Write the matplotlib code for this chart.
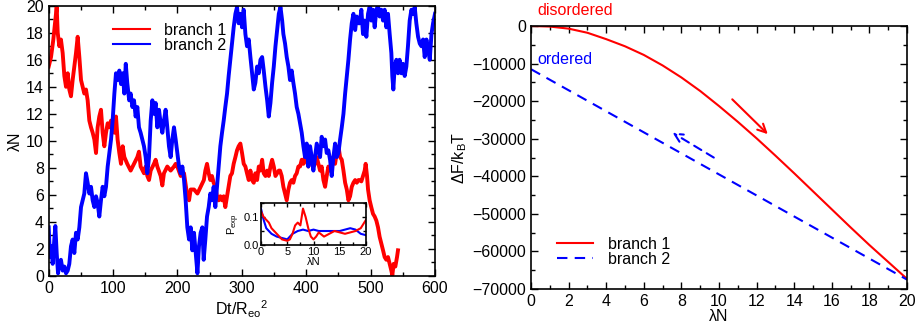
import matplotlib
matplotlib.use("Agg")
import matplotlib.pyplot as plt
from matplotlib.ticker import MultipleLocator

plt.rcParams['font.family'] = ['Liberation Sans', 'DejaVu Sans']
plt.rcParams['mathtext.fontset'] = 'custom'
plt.rcParams['mathtext.rm'] = 'Liberation Sans'
plt.rcParams['mathtext.it'] = 'Liberation Sans:italic'

# ---- left panel: time series of lambda N (branch 1 = red, branch 2 = blue) ----
t1 = [0, 3.6, 7.2, 10.3, 12.4, 14, 16.5, 19, 21.7, 24.3, 26.9, 29.5, 32, 34.6, 37.2, 39.8, 42.4, 45,
      47.6, 50.2, 52.8, 55.3, 57.9, 60.5, 63.1, 65.7, 68.3, 70.9, 73.5, 76, 78.6, 81.2, 83.8, 86.4,
      89, 91.6, 94.2, 96.8, 99.3, 102, 104.5, 107, 109.7, 112.3, 114.9, 117.5, 122, 127.3, 132.5,
      137.7, 140.2, 142.8, 148, 150.6, 153.2, 155.8, 158.4, 163.5, 166.1, 168.7, 173.9, 176.5, 179,
      184.2, 189.4, 194.6, 197.2, 199.8, 205, 210.2, 215.3, 218, 220.5, 225.7, 231, 236, 241, 243.3,
      245.9, 248.5, 251, 253.6, 256.2, 258.8, 261.4, 264, 266.6, 269.2, 271.8, 274.3, 277, 279.5,
      282.1, 284.7, 287.3, 290, 292.5, 295, 297.7, 300.3, 302.9, 305.5, 308, 310.7, 313.3, 315.9,
      318.5, 321, 323.7, 326.3, 328.9, 331.5, 334, 336.7, 339.3, 341.8, 344.4, 347, 349.6, 352.2,
      357.4, 359.3, 361.9, 364.5, 367.1, 369.7, 372.3, 374.8, 377.4, 380, 382.6, 385.2, 387.8, 390.4,
      393, 395.6, 398.1, 400.7, 403.3, 406, 408.5, 411.1, 413.7, 416.3, 418.9, 421.5, 424, 426.7,
      429.3, 431.8, 434.4, 437, 439.6, 442.2, 444.8, 447.4, 450, 452.6, 455.2, 457.8, 460.4, 463,
      465.5, 468.1, 470.7, 473.3, 476, 478.5, 481.1, 483, 485.6, 488.2, 490.8, 492.3, 494.4, 496,
      498.5, 501, 503.7, 506.3, 508.9, 511.5, 514, 516.7, 519.3, 521.8, 524.4, 527, 529.6, 532.2,
      533.7, 535.8, 538.4, 541, 542.5]
v1 = [15.5, 16.2, 17.5, 18.9, 19.9, 18, 17, 17.5, 16.5, 14.8, 14, 15, 13.8, 13.3, 14.5, 15.5, 16.5,
      17.7, 16.2, 14.5, 14, 13.5, 13.8, 13, 11.5, 11, 10.6, 10.1, 9.1, 11, 11.8, 12.3, 10.6, 9.6,
      10.6, 11.3, 11, 11.5, 11, 10.6, 11.8, 10.1, 9.1, 8.3, 9.6, 8.8, 8.3, 7.8, 8.3, 8.8, 9.2, 8.1,
      7.6, 8.1, 7.4, 7.1, 7.8, 8.3, 8.6, 8.1, 7.4, 6.7, 7.6, 8.1, 7.8, 8.1, 8.3, 8.1, 7.4, 7.6, 5.9,
      5.6, 6.4, 6.4, 6.1, 6.6, 7.1, 7.8, 8.3, 7.6, 7.1, 7.4, 6.9, 6.6, 5.9, 5.6, 5.9, 5.6, 5.9, 5.1,
      5.9, 6.6, 7.4, 7.6, 8.3, 8.8, 9.3, 9.6, 9.8, 9.1, 8.3, 8.1, 7.6, 7.1, 7.8, 7.1, 6.9, 7.6, 7.1,
      8.1, 7.8, 8.6, 7.6, 7.4, 7.8, 7.4, 8.1, 8.6, 8.1, 7.4, 7.8, 7.8, 7.4, 6.6, 6.1, 5.6, 6.4, 6.9,
      7.1, 6.9, 7.4, 7.6, 8.1, 8.1, 8.6, 8.3, 8.8, 8.6, 8.1, 9.1, 8.6, 8.1, 8.3, 8.8, 8.3, 7.8, 8.1,
      7.1, 6.6, 7.4, 8.1, 7.8, 8.6, 8.8, 8.3, 9.1, 9.6, 8.8, 8.6, 7.8, 6.9, 6.4, 5.6, 5.9, 6.6, 6.9,
      7.1, 6.9, 7.1, 7.1, 7, 7.4, 7.8, 8.3, 7.4, 6.4, 5.6, 5.1, 4.6, 4.4, 4.1, 3.6, 2.9, 2.4, 1.9,
      1.4, 1.2, 1.4, 0.9, 0.4, 0.05, 0.9, 0.7, 1.4, 1.9]

t2 = [0, 2, 4, 6.2, 8.7, 10.3, 12.4, 14.5, 16.5, 19, 21.7, 24.3, 26.9, 29.5, 32, 34.6, 37.2, 39.8,
      42.4, 45, 47.6, 50.2, 52.8, 55.3, 57.9, 60.5, 63.1, 65.7, 68.3, 70.9, 73.5, 76, 78.6, 81.2,
      83.8, 86.4, 89, 91.6, 94.2, 96.8, 99.3, 102, 104.5, 107, 109.7, 112.3, 114.9, 117.5, 119.7,
      122, 125, 127.3, 130, 132.5, 135, 137.7, 140.2, 142.8, 145.4, 148, 150.6, 153.2, 155.8, 158.4,
      161, 163.5, 166.1, 168.7, 171.3, 173.9, 176.5, 179, 181.6, 184.2, 186.8, 189.4, 192, 194.6,
      197.2, 199.8, 202.4, 205, 207.6, 210.2, 212.7, 215.3, 218, 220.5, 223.1, 225.7, 228.3, 231,
      233.4, 236, 238.6, 240.7, 243.3, 245.9, 248.5, 251, 253.6, 256.2, 258.8, 261.4, 264, 266.6,
      269.2, 271.8, 274.3, 277, 279.5, 282.1, 284.7, 287.3, 290, 292.5, 295, 297.7, 300.3, 302.9,
      305.5, 308, 310.7, 313.3, 315.9, 318.5, 321, 323.7, 326.3, 328.9, 331.5, 334, 336.7, 339.3,
      341.8, 344.4, 347, 349.6, 352.2, 354.8, 357.4, 360, 362.6, 364.5, 367.1, 369.7, 372.3, 374.8,
      377.4, 380, 382.6, 385.2, 387.8, 390.4, 393, 395.6, 398.1, 400.7, 403.3, 406, 408.5, 411.1,
      413.7, 416.3, 418.9, 421.5, 424, 426.7, 429.3, 431.8, 434.4, 437, 439.6, 442.2, 444.8, 447.4,
      450, 452.6, 455.2, 457.8, 460.4, 463, 465.5, 468.1, 470.7, 473.3, 476, 478.5, 481.1, 483,
      485.6, 488.2, 490.8, 493.4, 496, 498.5, 501, 503.7, 506.3, 508.9, 511.5, 514, 516.7, 519.3,
      521.8, 524.4, 527, 529.6, 532.2, 533.7, 535.3, 537.4, 540, 542.5, 545, 547.7, 550.3, 552.9,
      555.5, 558, 560.7, 563.3, 565.9, 568.5, 571, 573.7, 576.3, 578.9, 581.5, 584, 586.7, 589.3,
      591.9, 594.5, 597, 600]
v2 = [3.6, 1.4, 2.2, 0.9, 2.7, 3.7, 1.7, 0.2, 0.9, 1.2, 0.4, 0.7, 0.2, 0.4, 0.9, 2.2, 2.7, 1.7, 3.2,
      2.7, 3.6, 5.1, 5.6, 6.1, 7.6, 6.9, 6.1, 6.6, 5.6, 5.1, 5.9, 5.4, 4.4, 5.6, 6.6, 5.9, 6.6, 8.1,
      9.1, 10.1, 11.5, 13.5, 15, 14.5, 15.2, 14.2, 15, 13.5, 15.7, 14.3, 13, 13.5, 12.5, 13, 11.8,
      12.5, 11, 10.6, 10.1, 9.6, 8.8, 7.6, 8.8, 11.5, 13, 12, 12.8, 11, 12.3, 11.3, 10.6, 11.5, 12.3,
      11, 9.6, 8.8, 10.1, 11, 10.1, 9.1, 8.1, 7.6, 8.1, 7.1, 5.6, 3.6, 2.7, 3.6, 1.9, 3.2, 1.7, 0.2,
      2.2, 3.2, 3.6, 1.2, 2.7, 4.4, 5.1, 6.1, 5.6, 6.6, 5.1, 6.6, 8.1, 9.6, 10.6, 11.5, 12.5, 13.5,
      14.8, 16, 17.2, 18.4, 19.4, 19.9, 18.7, 19.4, 18.4, 19.7, 17.9, 17, 17.5, 16.2, 15, 13.8, 14.3,
      15.5, 15, 16, 16.2, 15.2, 14, 13, 11.8, 12.8, 14.3, 15.5, 17, 18.2, 19.4, 19.9, 18.9, 17.9,
      17.2, 16.2, 15.5, 14.5, 15.2, 14.3, 13.5, 12.5, 12, 11.3, 10.6, 9.6, 8.8, 9.8, 8.1, 9.6, 8.8,
      7.8, 8.8, 9.8, 9.3, 8.8, 10.3, 9.6, 10.1, 9.1, 9.3, 8.6, 7.4, 8.8, 9.8, 8.8, 9.1, 10.1, 11,
      12, 13.5, 14.8, 16, 17.5, 18.7, 19.4, 18.2, 19.2, 18.7, 18.7, 19.7, 17.9, 18.9, 17.7, 19.4,
      19.9, 18.9, 19.7, 18.4, 19.7, 20, 19.2, 19.7, 18.9, 19.7, 18.4, 19.4, 17.9, 16.5, 14.8, 13.8,
      15.5, 16, 15, 16, 15, 15.7, 14.8, 15.5, 17, 18.9, 19.7, 19.4, 19.9, 18.7, 17.7, 17.2, 17, 17.5,
      16.2, 17.5, 16.7, 16, 17.9, 18.7, 19.4]

# ---- inset: P_exp vs lambda N ----
ix_b = [0, 0.5, 1, 2, 3, 4, 5, 6, 7, 8, 9, 10, 11, 12, 13, 14, 15, 16, 17, 18, 19, 20]
iy_b = [0.13, 0.09, 0.06, 0.04, 0.03, 0.025, 0.02, 0.04, 0.05, 0.055, 0.05, 0.055, 0.05, 0.05,
        0.05, 0.05, 0.05, 0.055, 0.06, 0.055, 0.04, 0.035]
ix_r = [0, 0.5, 1, 1.5, 2, 3, 4, 5, 5.5, 6, 6.5, 7, 7.5, 8, 8.5, 9, 9.5, 10, 10.5, 11, 12, 13, 14,
        15, 16, 17, 18, 19, 20]
iy_r = [0.12, 0.1, 0.09, 0.08, 0.06, 0.04, 0.02, 0.015, 0.02, 0.04, 0.07, 0.08, 0.07, 0.13, 0.1,
        0.06, 0.03, 0.02, 0.03, 0.045, 0.03, 0.04, 0.05, 0.045, 0.04, 0.045, 0.05, 0.06, 0.09]

# ---- right panel: free energy ----
lam = [0, 1, 2, 3, 4, 5, 6, 7, 8, 9, 10, 11, 12, 13, 14, 15, 16, 17, 18, 19, 20]
F1 = [0, -150, -700, -1800, -3500, -5400, -7700, -10500, -13700, -17300, -21300, -25500, -29900,
      -34500, -39200, -44000, -48800, -53600, -58300, -62800, -67300]
lam2 = [0, 20]
F2 = [-11500, -67500]

W, H = 918, 328
fig = plt.figure(figsize=(W / 100, H / 100), dpi=100)

def box(l, t, r, b):
    return [l / W, 1 - b / H, (r - l) / W, (b - t) / H]

def style(ax, size):
    ax.tick_params(direction='in', which='both', top=True, right=True, labelsize=size, width=1)
    ax.tick_params(which='major', length=5)
    ax.tick_params(which='minor', length=3)
    for s in ax.spines.values():
        s.set_linewidth(1.2)

ax1 = fig.add_axes(box(48.7, 5.7, 435, 276))
ax1.plot(t1, v1, color='red', lw=2.8, label='branch 1')
ax1.plot(t2, v2, color='blue', lw=2.8, label='branch 2')
ax1.set_xlim(0, 600)
ax1.set_ylim(0, 20)
ax1.xaxis.set_major_locator(MultipleLocator(100))
ax1.xaxis.set_minor_locator(MultipleLocator(50))
ax1.yaxis.set_major_locator(MultipleLocator(2))
ax1.yaxis.set_minor_locator(MultipleLocator(1))
style(ax1, 11.5)
ax1.set_xlabel(r'Dt/R$_{\rm eo}$$^{\rm 2}$', fontsize=11.5, labelpad=2)
ax1.set_ylabel('λN', fontsize=11.5, labelpad=2)
leg1 = ax1.legend(loc='upper left', bbox_to_anchor=(0.13, 0.99), frameon=False, fontsize=11.5,
                  handlelength=2.3, labelspacing=0.0, handletextpad=0.9)
for h in leg1.get_lines():
    h.set_linewidth(1.5)

axi = fig.add_axes(box(261, 203, 366, 245))
axi.plot(ix_b, iy_b, color='blue', lw=1.5)
axi.plot(ix_r, iy_r, color='red', lw=1.5)
axi.set_xlim(0, 20)
axi.set_ylim(0, 0.15)
axi.xaxis.set_major_locator(MultipleLocator(5))
axi.yaxis.set_major_locator(MultipleLocator(0.1))
axi.yaxis.set_minor_locator(MultipleLocator(0.05))
axi.xaxis.set_minor_locator(MultipleLocator(2.5))
axi.tick_params(direction='in', which='both', top=True, right=True, labelsize=8, width=1, pad=1.5)
axi.tick_params(which='major', length=3)
axi.tick_params(which='minor', length=2)
for s in axi.spines.values():
    s.set_linewidth(1.2)
axi.set_xlabel('λN', fontsize=8, labelpad=0)
axi.set_ylabel(r'P$_{\rm exp}$', fontsize=8, labelpad=1)

ax2 = fig.add_axes(box(531, 26, 907, 289))
ax2.plot(lam, F1, color='red', lw=1.5, label='branch 1')
ax2.plot(lam2, F2, color='blue', lw=1.5, ls=(0, (5, 3.5)), label='branch 2')
ax2.set_xlim(0, 20)
ax2.set_ylim(-70000, 0)
ax2.xaxis.set_major_locator(MultipleLocator(2))
ax2.xaxis.set_minor_locator(MultipleLocator(1))
ax2.yaxis.set_major_locator(MultipleLocator(10000))
ax2.yaxis.set_minor_locator(MultipleLocator(5000))
style(ax2, 11.5)
ax2.set_xlabel('λN', fontsize=11.5, labelpad=0)
ax2.set_ylabel(r'$\Delta$F/k$_{\rm B}$T', fontsize=11.5, labelpad=2)
ax2.legend(loc='lower left', bbox_to_anchor=(0.03, 0.03), frameon=False, fontsize=11.5,
           handlelength=2.3, labelspacing=0.0, handletextpad=0.9)
ax2.annotate('', xy=(12.7, -29300), xytext=(10.6, -19000),
             arrowprops=dict(arrowstyle='->', color='red', lw=1.5, mutation_scale=15))
ax2.annotate('', xy=(7.4, -28000), xytext=(9.85, -35400),
             arrowprops=dict(arrowstyle='->', color='blue', lw=1.5, ls=(0, (4, 3)), mutation_scale=15))
ax2.text(0.36, 2900, 'disordered', color='red', fontsize=11.5, va='baseline', ha='left')
ax2.text(0.36, -10100, 'ordered', color='blue', fontsize=11.5, va='baseline', ha='left')

fig.savefig('out.png', dpi=100)
